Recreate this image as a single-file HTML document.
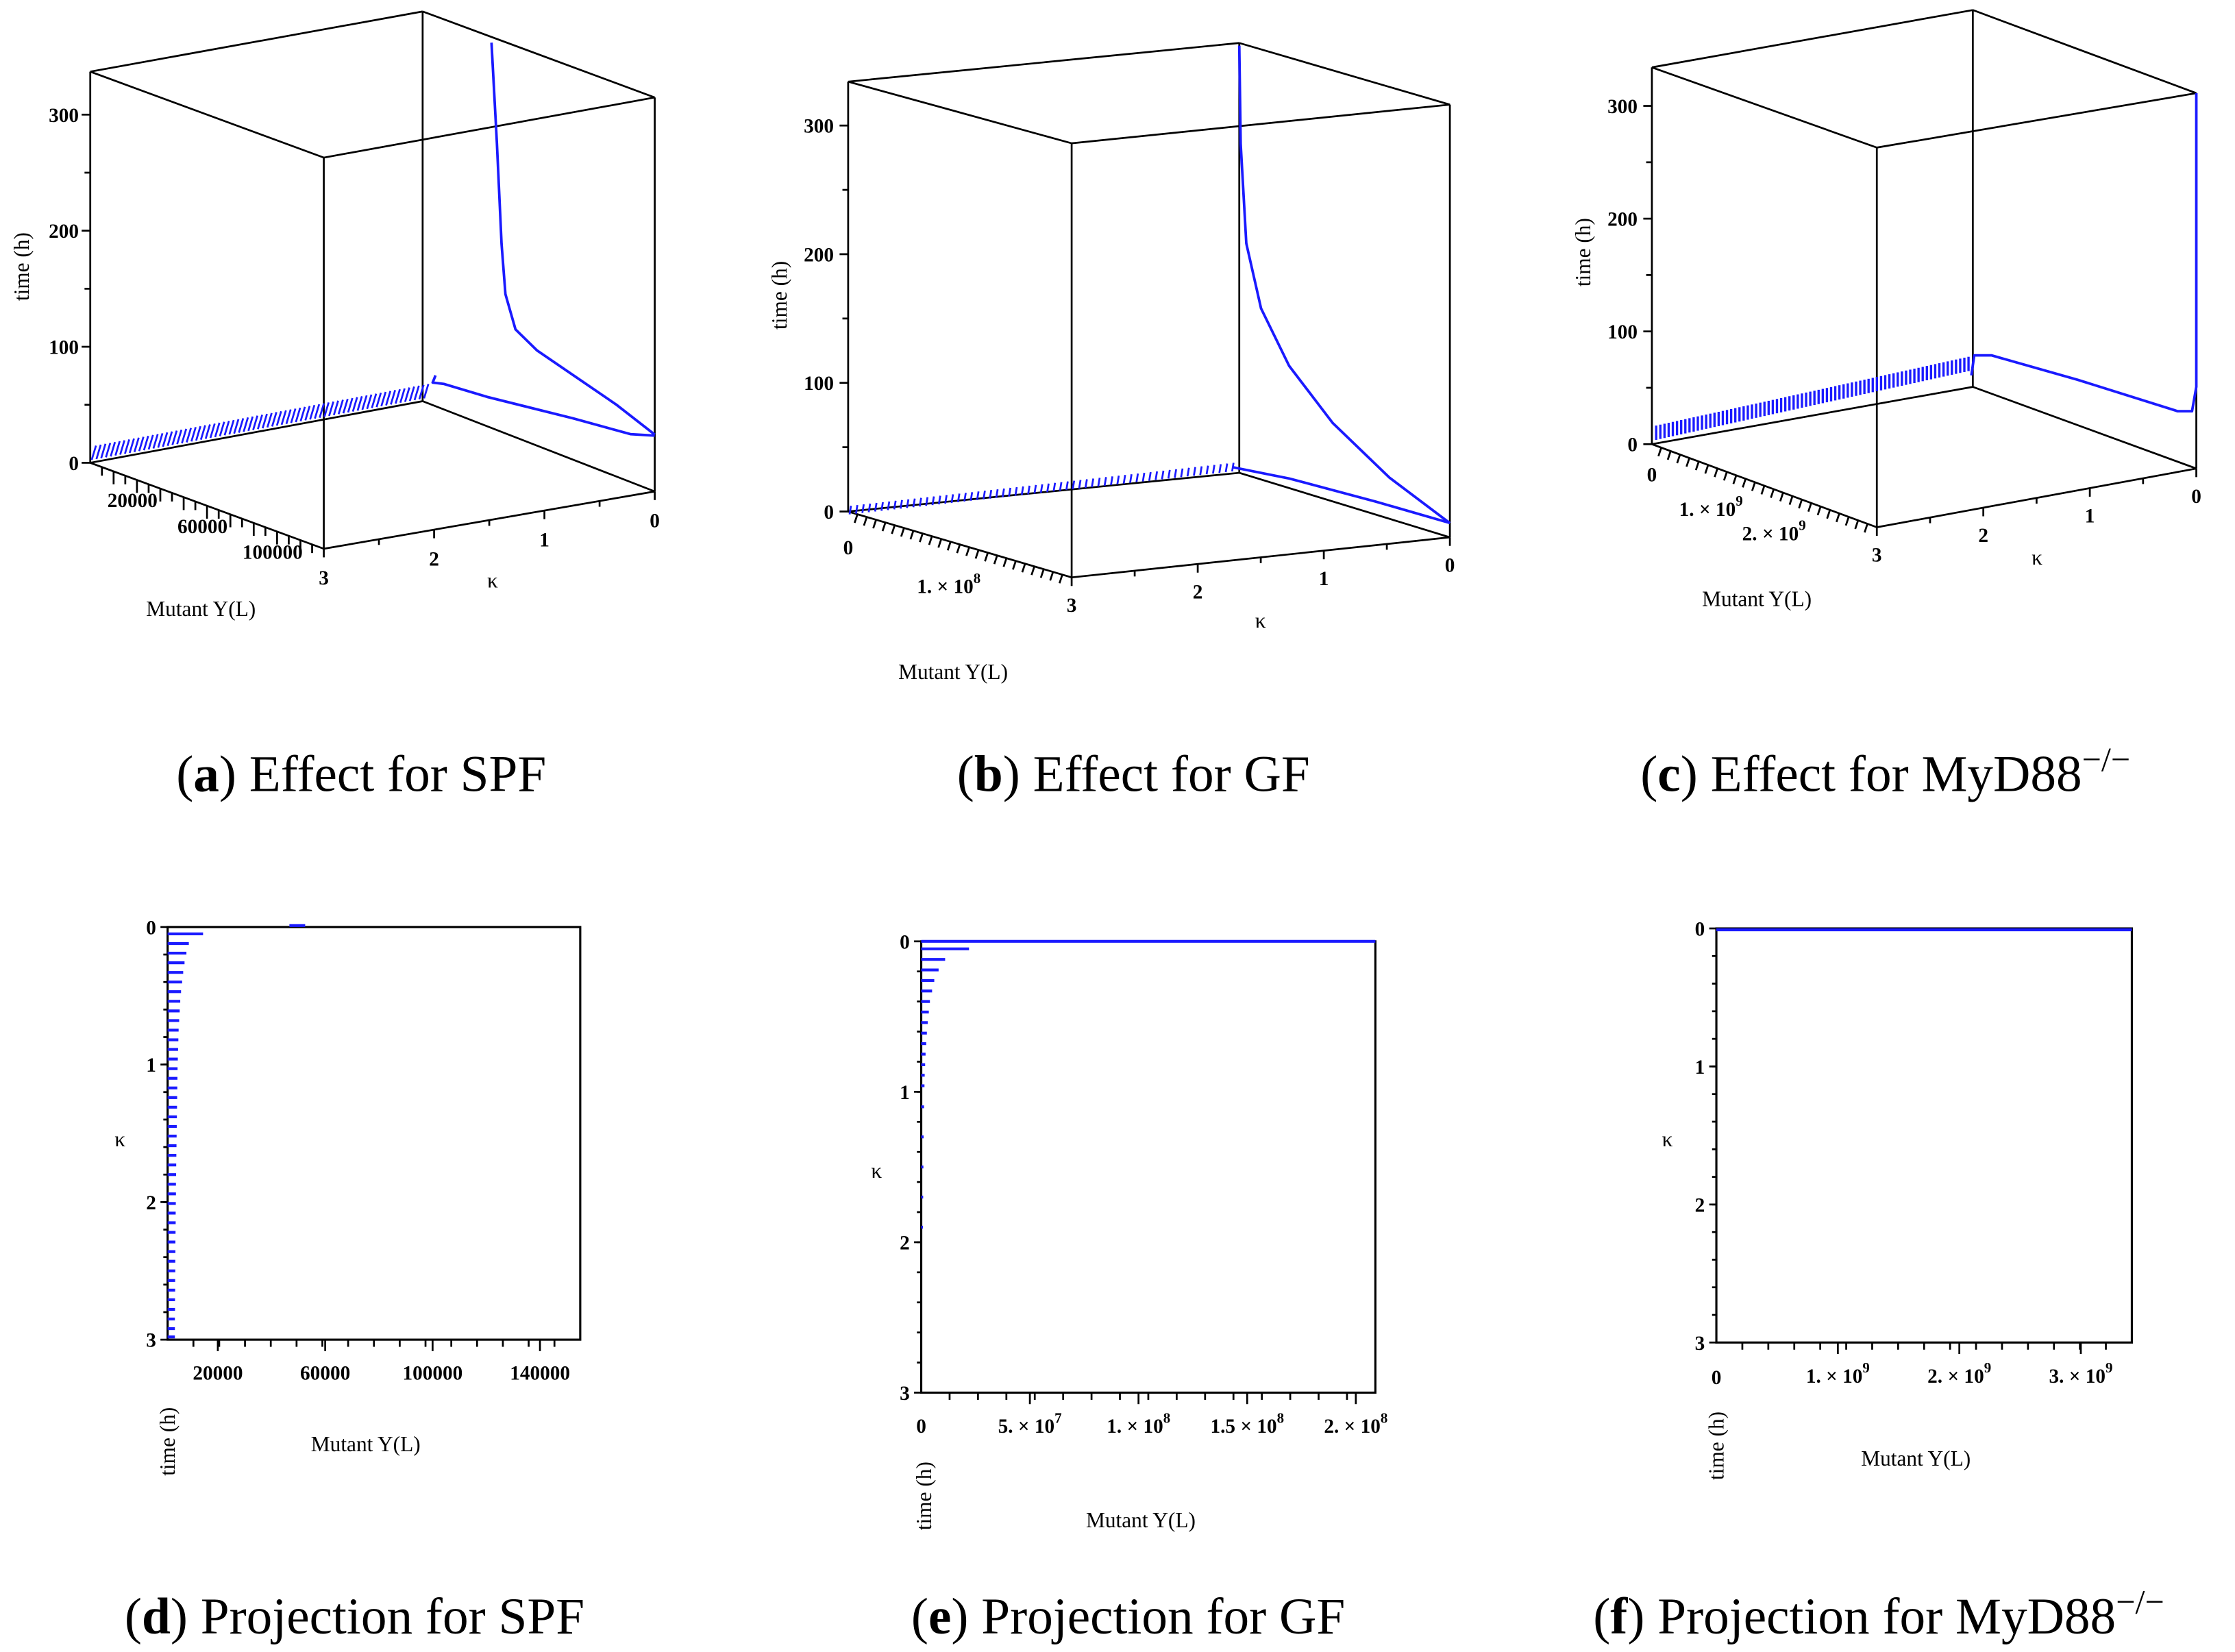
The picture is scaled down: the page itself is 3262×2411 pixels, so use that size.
<!DOCTYPE html>
<html><head><meta charset="utf-8"><style>
html,body{margin:0;padding:0;background:#fff}
svg{display:block}
text{font-family:"Liberation Serif",serif;fill:#000}
.t{font-size:14px;font-weight:bold}
.l{font-size:15px}
.cap{font-size:36px}
</style></head><body>
<svg id="s" width="3262" height="2411" viewBox="0 0 1560 1153" xmlns="http://www.w3.org/2000/svg">
<g id="g" stroke-linecap="butt"></g>
<text class="cap" x="123" y="552">(<tspan font-weight="bold">a</tspan>) Effect for SPF</text>
<text class="cap" x="668" y="552">(<tspan font-weight="bold">b</tspan>) Effect for GF</text>
<text class="cap" x="1145" y="552">(<tspan font-weight="bold">c</tspan>) Effect for MyD88<tspan font-size="24" dy="-14">−/−</tspan></text>
<text class="cap" x="87" y="1140">(<tspan font-weight="bold">d</tspan>) Projection for SPF</text>
<text class="cap" x="636" y="1140">(<tspan font-weight="bold">e</tspan>) Projection for GF</text>
<text class="cap" x="1112" y="1140">(<tspan font-weight="bold">f</tspan>) Projection for MyD88<tspan font-size="24" dy="-14">−/−</tspan></text>
</svg>
<script>
// ---- data ----
const timeTicks=[0,100,200,300];
const kappaTicks=[0,1,2,3];
const dTicks=[20000,60000,100000,140000];
const dTickLabels=["20000","60000","100000","140000"];
const eTicks=[5e7,1e8,1.5e8,2e8];
const eTickLabels=["5. × 10","1. × 10","1.5 × 10","2. × 10"];
const eTickExp=["7","8","8","8"];
const fTicks=[1e9,2e9,3e9];
const fTickLabels=["1. × 10","2. × 10","3. × 10"];
const fTickExp=["9","9","9"];
const dBarKappa=[0.05,0.12,0.19,0.26,0.33,0.4,0.47,0.54,0.61,0.68,0.75,0.82,0.89,0.96,1.03,1.1,1.17,1.24,1.31,1.38,1.45,1.52,1.59,1.66,1.73,1.8,1.87,1.94,2.01,2.08,2.15,2.22,2.29,2.36,2.43,2.5,2.57,2.64,2.71,2.78,2.85,2.92,2.98];
const dBarY=[14500,9200,8300,7600,7100,6700,6300,6000,5800,5600,5400,5300,5200,5100,5000,4950,4900,4850,4800,4750,4700,4650,4600,4550,4500,4450,4400,4400,4350,4300,4300,4250,4200,4200,4150,4150,4100,4100,4050,4050,4000,4000,4000];
const eBarKappa=[0.05,0.12,0.19,0.26,0.33,0.4,0.47,0.54,0.61,0.68,0.75,0.82,0.89,0.96,1.1,1.3,1.5,1.7,1.9];
const eBarY=[2.2e7,1.1e7,8e6,6e6,5e6,4e6,3.5e6,3e6,2.6e6,2.3e6,2e6,1.8e6,1.6e6,1.5e6,1.3e6,1.1e6,1e6,9e5,8e5];
const aCurveK=[2.11,2.04,1.98,1.93,1.8,1.52,1.06,0.5,0];
const aCurveT=[332,247,162,120,93,82,73,62,49];
const bCurveK=[3,2.98,2.9,2.69,2.29,1.67,0.86,0];
const bCurveT=[332,256,180,133,95,61,32,11];

const NS="http://www.w3.org/2000/svg";
const G=document.getElementById('g');
function el(tag,attrs,parent){const e=document.createElementNS(NS,tag);for(const k in attrs)e.setAttribute(k,attrs[k]);(parent||G).appendChild(e);return e;}
function line(x1,y1,x2,y2,c,w,name){const e=el('line',{x1,y1,x2,y2,stroke:c||'#000','stroke-width':w||1.3});

return e;}
function txt(x,y,s,cls,name,anchor,exp){const e=el('text',{x,y,class:cls||'t','text-anchor':anchor||'start'});e.textContent=s;
if(exp){const ts=el('tspan',{dy:-7,'font-size':10},e);ts.textContent=exp;}

return e;}
function poly(pts,name){const e=el('polyline',{points:pts.map(p=>p.join(',')).join(' '),fill:'none',stroke:'#1a1aff','stroke-width':1.8,'stroke-linejoin':'round'});

return e;}

function box3d(P,prefix){
  const e=[[P.tl,P.tb],[P.tb,P.tr],[P.tr,P.tf],[P.tf,P.tl],[P.bl,P.bb],[P.bb,P.br],[P.br,P.bf],[P.bf,P.bl],
  [P.tl,P.bl],[P.tb,P.bb],[P.tr,P.br],[P.tf,P.bf]];
  e.forEach(s=>line(s[0][0],s[0][1],s[1][0],s[1][1],'#000',1.3,prefix+'-box-edge'));
}
function lerp(a,b,t){return [a[0]+(b[0]-a[0])*t,a[1]+(b[1]-a[1])*t];}
function kTicks(P,pre,dy,kx,ky){
  kappaTicks.forEach(k=>{const p=lerp(P.br,P.bf,k/3);line(p[0],p[1],p[0],p[1]+6);txt(p[0],p[1]+dy,String(k),'t',pre+'-kappa-tick','middle');});
  [0.5,1.5,2.5].forEach(k=>{const p=lerp(P.br,P.bf,k/3);line(p[0],p[1],p[0],p[1]+4);});
  txt(kx,ky,"κ",'l',pre+'-kappa-title');
}

// ---------- Panel A ----------
const A={tl:[63,50],tb:[295,8],tr:[457,68],tf:[226,110],bl:[63,323],bb:[295,280],br:[457,343],bf:[226,383]};
box3d(A,'a');
const aT=t=>323-t*0.81;
timeTicks.forEach(t=>{line(57,aT(t),63,aT(t));txt(55,aT(t)+5,String(t),'t','a-time-tick','end');});
[50,150,250].forEach(t=>line(59,aT(t),63,aT(t)));
txt(20,210,"time (h)",'l','a-time-axis-title').setAttribute('transform','rotate(-90 20 210)');
kTicks(A,'a',25,340,410);
[["20000",0.15],["60000",0.45],["100000",0.75]].forEach(([s,f])=>{const p=lerp(A.bl,A.bf,f);txt(p[0]+5,p[1]+22,s,'t','a-y-tick','middle');});
for(let i=1;i<20;i++){const p=lerp(A.bl,A.bf,i/20);line(p[0],p[1],p[0],p[1]+(i%2?6:9));}
txt(102,430,"Mutant Y(L)",'l','a-y-title');
for(let i=0;i<=70;i++){const p=lerp([64,322],[296,279],i/70);line(p[0],p[1]-1,p[0]+3,p[1]-11,'#1a1aff',1.3,'a-hatch');}
poly([[304,262],[302,267],[310,268],[340,277],[400,292],[440,303],[457,304]],'a-base-curve');
const aMap=(k,t)=>{const b=lerp(A.bb,A.br,(3-k)/3);return [b[0],b[1]-t*0.81];};
poly(aCurveK.map((k,i)=>aMap(k,aCurveT[i])),'a-curve');

// ---------- Panel B ----------
const B={tl:[592,57],tb:[865,30],tr:[1012,73],tf:[748,100],bl:[592,357],bb:[865,330],br:[1012,375],bf:[748,403]};
box3d(B,'b');
const bT=t=>357-t*0.898;
timeTicks.forEach(t=>{line(586,bT(t),592,bT(t));txt(582,bT(t)+5,String(t),'t','b-time-tick','end');});
[50,150,250].forEach(t=>line(588,bT(t),592,bT(t)));
txt(549,230,"time (h)",'l','b-time-axis-title').setAttribute('transform','rotate(-90 549 230)');
kTicks(B,'b',24,876,438);
for(let i=1;i<24;i++){const p=lerp(B.bl,B.bf,i/24);line(p[0],p[1],p[0]-2,p[1]+6);}
txt(592,387,"0",'t','b-y-tick','middle');
txt(640,414,"1. × 10",'t','b-y-tick','start','8');
txt(627,474,"Mutant Y(L)",'l','b-y-title');
for(let i=0;i<=60;i++){const p=lerp([593,357],[860,327],i/60);line(p[0],p[1]+2,p[0]+1,p[1]-4,'#1a1aff',1.3,'b-hatch');}
poly([[860,326],[900,334],[960,350],[1012,365]],'b-base-curve');
const bMap=(k,t)=>{const b=lerp(B.bb,B.br,(3-k)/3);return [b[0],b[1]-t*0.898];};
poly(bCurveK.map((k,i)=>bMap(k,bCurveT[i])),'b-curve');

// ---------- Panel C ----------
const C={tl:[1153,47],tb:[1377,7],tr:[1533,65],tf:[1310,103],bl:[1153,310],bb:[1377,270],br:[1533,327],bf:[1310,368]};
box3d(C,'c');
const cT=t=>310-t*0.787;
timeTicks.forEach(t=>{line(1147,cT(t),1153,cT(t));txt(1143,cT(t)+5,String(t),'t','c-time-tick','end');});
[50,150,250].forEach(t=>line(1149,cT(t),1153,cT(t)));
txt(1110,200,"time (h)",'l','c-time-axis-title').setAttribute('transform','rotate(-90 1110 200)');
kTicks(C,'c',24,1418,394);
for(let i=1;i<24;i++){const p=lerp(C.bl,C.bf,i/24);line(p[0],p[1],p[0]-2,p[1]+6);}
txt(1153,336,"0",'t','c-y-tick','middle');
txt(1172,360,"1. × 10",'t','c-y-tick','start','9');
txt(1216,377,"2. × 10",'t','c-y-tick','start','9');
txt(1188,423,"Mutant Y(L)",'l','c-y-title');
for(let i=0;i<=75;i++){const p=lerp([1156,304],[1374,256],i/75);line(p[0],p[1]+3,p[0],p[1]-7,'#1a1aff',1.6,'c-hatch');}
poly([[1376,262],[1378,248],[1390,248],[1450,265],[1520,287],[1530,287],[1533,270],[1533,65]],'c-curve');

// ---------- Projections ----------
function proj(x0,y0,x1,y1,xmin,xmax,ticks,labels,exps,barsK,barsY,pre){
  const X=v=>x0+(v-xmin)/(xmax-xmin)*(x1-x0);
  const K=k=>y0+k/3*(y1-y0);
  const r=el('rect',{x:x0,y:y0,width:x1-x0,height:y1-y0,fill:'none',stroke:'#000','stroke-width':1.5});
  
  
  kappaTicks.forEach(k=>{line(x0-5,K(k),x0,K(k));txt(x0-8,K(k)+5,String(k),'t',pre+'-kappa-tick','end');});
  for(let k=0.2;k<3;k+=0.2)line(x0-3,K(k),x0,K(k));
  ticks.forEach((v,i)=>{line(X(v),y1,X(v),y1+8);txt(X(v),y1+28,labels[i],'t',pre+'-y-tick','middle',exps?exps[i]:null);});
  for(let i=1;i<16;i++){const x=x0+(x1-x0)*i/16;line(x,y1,x,y1+5);}
  barsK.forEach((k,i)=>{line(x0,K(k),X(barsY[i]),K(k),'#1a1aff',2,pre+'-bar');});
  return {X,K};
}
proj(117,647,405,935,1300,155000,dTicks,dTickLabels,null,dBarKappa,dBarY,'d');
txt(80,800,"κ",'l','d-kappa-title');
txt(122,1030,"time (h)",'l','d-time-title').setAttribute('transform','rotate(-90 122 1030)');
txt(217,1013,"Mutant Y(L)",'l','d-y-title');
line(202,646,213,646,'#1a1aff',2,'d-top-mark');

proj(643,657,960,972,0,2.09e8,eTicks,eTickLabels,eTickExp,eBarKappa,eBarY,'e');
line(643,657,960,657,'#1a1aff',2,'e-top-line');
txt(643,1000,"0",'t','e-y-tick-zero','middle');
txt(608,822,"κ",'l','e-kappa-title');
txt(650,1068,"time (h)",'l','e-time-title').setAttribute('transform','rotate(-90 650 1068)');
txt(758,1066,"Mutant Y(L)",'l','e-y-title');

proj(1198,648,1488,937,0,3.42e9,fTicks,fTickLabels,fTickExp,[0.01],[3.42e9],'f');
txt(1198,966,"0",'t','f-y-tick-zero','middle');
txt(1160,800,"κ",'l','f-kappa-title');
txt(1203,1033,"time (h)",'l','f-time-title').setAttribute('transform','rotate(-90 1203 1033)');
txt(1299,1023,"Mutant Y(L)",'l','f-y-title');
</script>
</body></html>
